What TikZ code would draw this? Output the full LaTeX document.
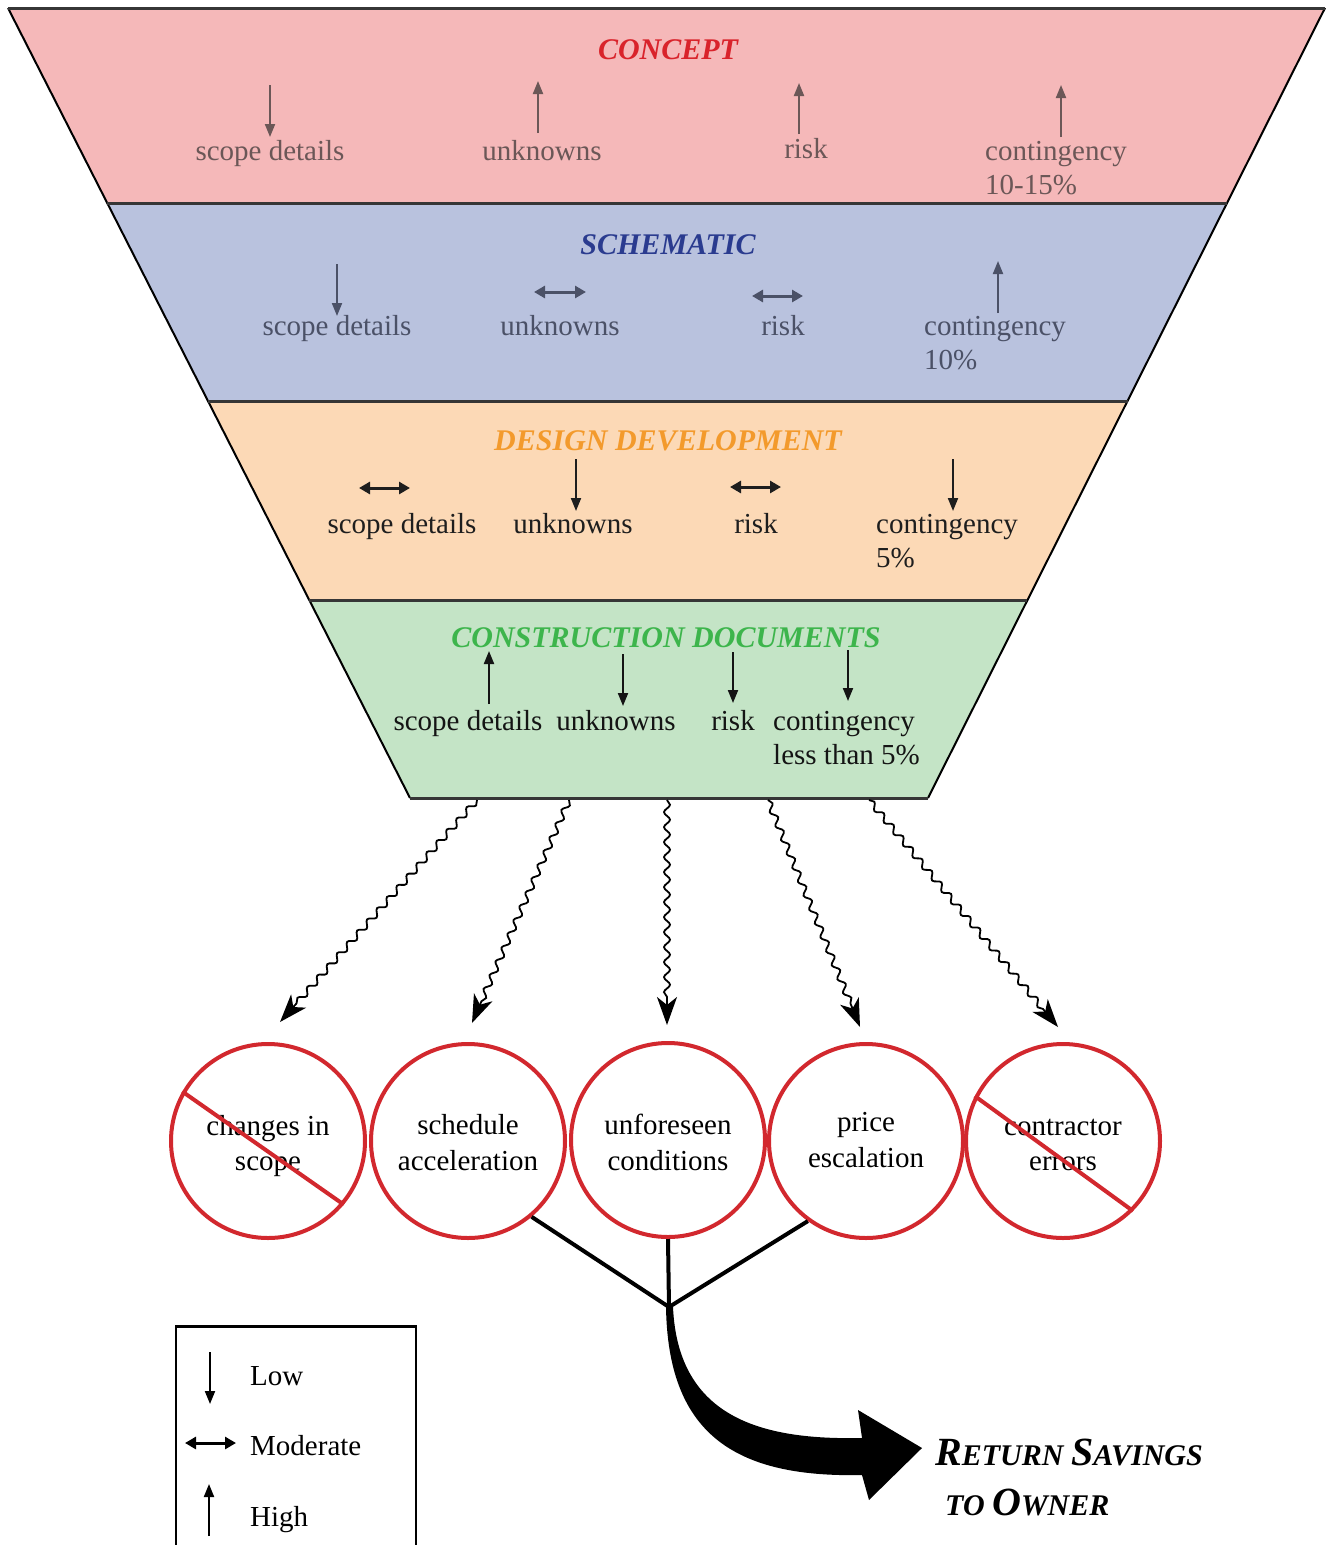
\documentclass[tikz,border=0pt]{standalone}
\usepackage{fontspec}
\setmainfont{Liberation Serif}
\usetikzlibrary{arrows.meta,decorations.pathmorphing,calc}

\definecolor{conceptfill}{HTML}{F5B8B9}
\definecolor{schemfill}{HTML}{B9C2DE}
\definecolor{ddfill}{HTML}{FCD9B6}
\definecolor{cdfill}{HTML}{C4E4C6}
\definecolor{conceptred}{HTML}{D9232B}
\definecolor{schemblue}{HTML}{2A3B8F}
\definecolor{ddorange}{HTML}{F39A2C}
\definecolor{cdgreen}{HTML}{3DB54C}
\definecolor{conceptink}{HTML}{6B5757}
\definecolor{schemink}{HTML}{4B5167}
\definecolor{ddink}{HTML}{1E1E1E}
\definecolor{cdink}{HTML}{141414}
\definecolor{stopred}{HTML}{D2282E}
\definecolor{sepgray}{HTML}{363636}

\newcommand{\initcap}[1]{{\fontsize{40}{40}\selectfont #1}}

\begin{document}
\begin{tikzpicture}[x=1pt,y=-1pt,
  item/.style={font=\fontsize{29}{34}\selectfont, anchor=base, inner sep=0pt},
  itemleft/.style={item, anchor=base west},
  phase/.style={font=\bfseries\itshape\fontsize{30}{36}\selectfont, anchor=base, inner sep=0pt},
  lowarr/.style={line width=2pt, -{Triangle[length=13pt,width=10pt]}},
  higharr/.style={line width=2pt, -{Triangle[length=13pt,width=10pt]}},
  modarr/.style={line width=3pt, {Triangle[length=11pt,width=12pt]}-{Triangle[length=11pt,width=12pt]}},
  sep/.style={line width=3pt, sepgray},
  stopcircle/.style={circle, draw=stopred, line width=4pt, fill=white, minimum size=194pt, inner sep=0pt},
  strike/.style={stopred, line width=4pt},
  wavy/.style={line width=1.8pt, decorate,
    decoration={snake, amplitude=3pt, segment length=15pt, post length=22pt},
    -{Stealth[length=28pt,width=20pt,inset=8pt]}},
  tree/.style={line width=4pt, black}
]
\useasboundingbox (0,0) rectangle (1327,1545);
\fill[white] (0,0) rectangle (1327,1545);

% funnel bands
\fill[conceptfill] (8,8) -- (1325,8) -- (1227,203) -- (107,203) -- cycle;
\fill[schemfill] (107,203) -- (1227,203) -- (1128,401) -- (208,401) -- cycle;
\fill[ddfill] (208,401) -- (1128,401) -- (1027,600) -- (309,600) -- cycle;
\fill[cdfill] (309,600) -- (1027,600) -- (928,798) -- (410,798) -- cycle;
\draw[line width=2pt] (8,8) -- (410,798);
\draw[line width=2pt] (1325,8) -- (928,798);
\foreach \y/\xl/\xr in {8/8/1325, 203/107/1227, 401/208/1128, 600/309/1027, 798/410/928}
  \draw[sep] (\xl,\y) -- (\xr,\y);

% phase titles
\node[phase, text=conceptred] (tconcept) at (668,59) {CONCEPT};
\node[phase, text=schemblue] (tschem) at (668,254) {SCHEMATIC};
\node[phase, text=ddorange] (tdd) at (668,450) {DESIGN DEVELOPMENT};
\node[phase, text=cdgreen] (tcd) at (666,647) {CONSTRUCTION DOCUMENTS};

% concept
\begin{scope}[color=conceptink]
  \node[item] (csd) at (270,160) {scope details};
  \draw[lowarr] (270,85) -- (270,137);
  \node[item] (cunk) at (542,160) {unknowns};
  \draw[higharr] (538,133) -- (538,81);
  \node[item] (crisk) at (806,158) {risk};
  \draw[higharr] (799,134) -- (799,83);
  \node[itemleft] (ccont) at (985,160) {contingency};
  \node[itemleft] (cpct) at (985,194) {10-15\%};
  \draw[higharr] (1061,137) -- (1061,85);
\end{scope}

% schematic
\begin{scope}[color=schemink]
  \node[item] (ssd) at (337,335) {scope details};
  \draw[lowarr] (337,264) -- (337,316);
  \node[item] (sunk) at (560,335) {unknowns};
  \draw[modarr] (534,292) -- (586,292);
  \node[item] (srisk) at (783,335) {risk};
  \draw[modarr] (752,296) -- (803,296);
  \node[itemleft] (scont) at (924,335) {contingency};
  \node[itemleft] (spct) at (924,369) {10\%};
  \draw[higharr] (998,313) -- (998,261);
\end{scope}

% design development
\begin{scope}[color=ddink]
  \node[item] (dsd) at (402,533) {scope details};
  \draw[modarr] (359,488) -- (410,488);
  \node[item] (dunk) at (573,533) {unknowns};
  \draw[lowarr] (576,459) -- (576,511);
  \node[item] (drisk) at (756,533) {risk};
  \draw[modarr] (730,487) -- (781,487);
  \node[itemleft] (dcont) at (876,533) {contingency};
  \node[itemleft] (dpct) at (876,567) {5\%};
  \draw[lowarr] (953,459) -- (953,511);
\end{scope}

% construction documents
\begin{scope}[color=cdink]
  \node[item] (xsd) at (468,730) {scope details};
  \draw[higharr] (489,704) -- (489,651);
  \node[item] (xunk) at (616,730) {unknowns};
  \draw[lowarr] (623,654) -- (623,706);
  \node[item] (xrisk) at (733,730) {risk};
  \draw[lowarr] (733,652) -- (733,703);
  \node[itemleft] (xcont) at (773,730) {contingency};
  \node[itemleft] (xpct) at (773,764) {less than 5\%};
  \draw[lowarr] (848,650) -- (848,701);
\end{scope}

% cost risk circles
\node[stopcircle] (c1) at (268,1141) {};
\node[stopcircle] (c2) at (468,1141) {};
\node[stopcircle] (c3) at (668,1140) {};
\node[stopcircle] (c4) at (866,1141) {};
\node[stopcircle] (c5) at (1063,1141) {};

\node[item] (c1a) at (268,1135) {changes in};
\node[item] (c1b) at (268,1170) {scope};
\node[item] (c2a) at (468,1134) {schedule};
\node[item] (c2b) at (468,1170) {acceleration};
\node[item] (c3a) at (668,1134) {unforeseen};
\node[item] (c3b) at (668,1170) {conditions};
\node[item] (c4a) at (866,1131) {price};
\node[item] (c4b) at (866,1167) {escalation};
\node[item] (c5a) at (1063,1135) {contractor};
\node[item] (c5b) at (1063,1170) {errors};

\draw[strike] (c1.150) -- (c1.-40);
\draw[strike] (c5.153) -- (c5.-45);

% wavy connectors from the funnel to the circles
\coordinate (f1) at (477,800);
\coordinate (f2) at (569,800);
\coordinate (f3) at (667,800);
\coordinate (f4) at (768,800);
\coordinate (f5) at (869,800);
\coordinate (t1) at (280,1022);
\coordinate (t2) at (472,1023);
\coordinate (t3) at (667,1025);
\coordinate (t4) at (860,1027);
\coordinate (t5) at (1058,1027);
\foreach \i in {1,...,5}
  \draw[wavy] (f\i) -- (t\i);

% savings tree
\coordinate (j) at (669,1307);
\draw[tree] (c2.-50) -- (j);
\draw[tree] (c3.south) -- (j);
\draw[tree] (c4.234) -- (j);

% curved return arrow
\fill[black] (j) ++(-3,0)
  .. controls (668,1430) and (730,1478) .. (862,1475)
  -- (869,1500) -- (922,1448) -- (858,1410) -- (862,1438)
  .. controls (765,1440) and (678,1420) .. (673,1307) -- cycle;

\node[font=\bfseries\itshape\fontsize{30}{36}\selectfont, anchor=base west, inner sep=0pt]
  (ret1) at (935,1465) {\initcap{R}ETURN \initcap{S}AVINGS};
\node[font=\bfseries\itshape\fontsize{30}{36}\selectfont, anchor=base west, inner sep=0pt]
  (ret2) at (945,1515) {TO \initcap{O}WNER};

% legend
\draw[line width=2pt] (176,1545) -- (176,1326);
\draw[line width=3pt] (175,1326) -- (417,1326);
\draw[line width=2pt] (416,1326) -- (416,1545);
\draw[lowarr] (210,1352) -- (210,1404);
\node[itemleft] (llow) at (250,1385) {Low};
\draw[modarr] (185,1443) -- (236,1443);
\node[itemleft] (lmod) at (250,1455) {Moderate};
\draw[higharr] (209,1536) -- (209,1484);
\node[itemleft] (lhigh) at (250,1526) {High};
\end{tikzpicture}
\end{document}
